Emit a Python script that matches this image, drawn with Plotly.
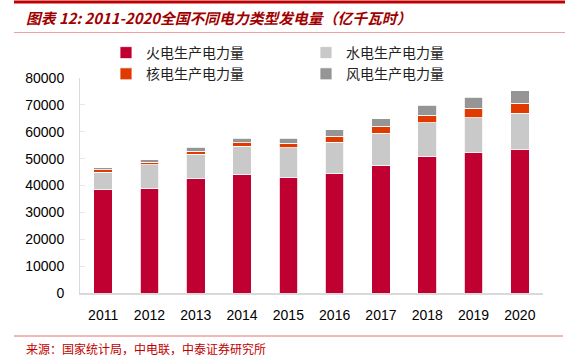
import plotly.graph_objects as go

years = ["2011", "2012", "2013", "2014", "2015", "2016", "2017", "2018", "2019", "2020"]
thermal = [38337, 38928, 42470, 44001, 42842, 44371, 47546, 50963, 52201, 53302]
hydro = [6681, 8721, 9203, 10601, 11127, 11748, 11931, 12321, 13021, 13552]
nuclear = [874, 983, 1115, 1332, 1714, 2133, 2481, 2950, 3487, 3662]
wind = [741, 960, 1383, 1598, 1856, 2409, 2972, 3658, 4057, 4665]

names = ["火电生产电力量", "水电生产电力量", "核电生产电力量", "风电生产电力量"]
colors = ["#C00030", "#C9C9C9", "#E03A00", "#959595"]
y_ticks = [0, 10000, 20000, 30000, 40000, 50000, 60000, 70000, 80000]

W, H = 565, 357
ML, MR, MT, MB = 80, 22, 78, 64
PW, PH = W - ML - MR, H - MT - MB


def px(x):
    return (x - ML) / PW


def py(y):
    return (H - MB - y) / PH


fig = go.Figure()
for nm, vals, c in zip(names, [thermal, hydro, nuclear, wind], colors):
    fig.add_trace(go.Bar(x=years, y=vals, name=nm, marker=dict(color=c, line=dict(color="white", width=0.8))))

fig.update_layout(
    width=W, height=H,
    margin=dict(l=ML, r=MR, t=MT, b=MB, autoexpand=False),
    barmode="stack", bargap=0.6,
    paper_bgcolor="white", plot_bgcolor="white",
    font=dict(family="Liberation Sans, Arial", color="#000000"),
    legend=dict(
        orientation="h", traceorder="normal",
        x=px(106), xanchor="left", y=py(37), yanchor="top",
        entrywidth=155, entrywidthmode="pixels",
        font=dict(family="Noto Sans CJK SC", size=14, color="#222222"),
        bgcolor="rgba(0,0,0,0)",
    ),
    xaxis=dict(
        showline=True, linecolor="#D9D9D9", linewidth=2,
        tickfont=dict(size=14, color="#000000"), ticks="", ticklabelstandoff=8,
    ),
    yaxis=dict(
        range=[0, 80000], tickvals=y_ticks, tickformat="d",
        showline=True, linecolor="#D9D9D9", linewidth=1,
        showgrid=False, zeroline=False,
        ticks="inside", ticklen=5, tickcolor="#E6E6E6",
        tickfont=dict(size=14, color="#000000"), ticklabelstandoff=12,
    ),
    shapes=[
        dict(type="line", xref="paper", yref="paper", x0=px(14), x1=px(565), y0=py(2), y1=py(2),
             line=dict(color="#C00000", width=3)),
        dict(type="line", xref="paper", yref="paper", x0=px(14), x1=px(565), y0=py(32.5), y1=py(32.5),
             line=dict(color="#F0A0A0", width=1)),
        dict(type="line", xref="paper", yref="paper", x0=px(14), x1=px(563), y0=py(336), y1=py(336),
             line=dict(color="#E87070", width=1)),
    ],
    annotations=[
        dict(text="<i><b>图表 12: 2011-2020全国不同电力类型发电量（亿千瓦时）</b></i>",
             xref="paper", yref="paper", x=px(24), y=py(17), xanchor="left", yanchor="middle",
             showarrow=False, font=dict(family="Noto Sans CJK SC", size=14.8, color="#A00000")),
        dict(text="来源：国家统计局，中电联，中泰证券研究所",
             xref="paper", yref="paper", x=px(24), y=py(348), xanchor="left", yanchor="middle",
             showarrow=False, font=dict(family="Noto Sans CJK SC", size=12, color="#C00000")),
    ],
)

fig.write_html("out.html", config={"displayModeBar": False},
               post_script="document.body.style.margin='0';")
